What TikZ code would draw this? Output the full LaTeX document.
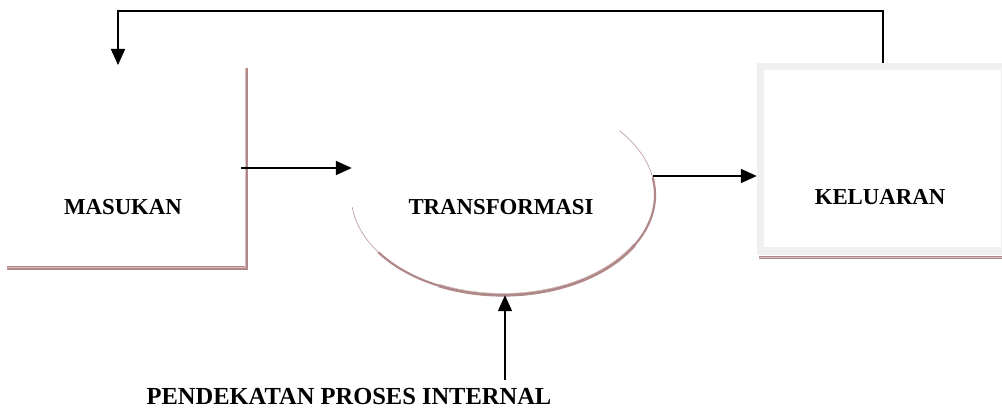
\documentclass[tikz,border=0pt]{standalone}
\usepackage{fontspec}
\setmainfont{Liberation Serif}
\usetikzlibrary{arrows.meta,shapes.geometric}
\definecolor{shadowrose}{RGB}{176,136,136}
\definecolor{shadowlite}{RGB}{214,190,190}
\definecolor{framegray}{RGB}{240,240,240}
\tikzset{
  lbl/.style={font=\fontsize{22.8}{26}\selectfont\bfseries, inner sep=0pt},
  arr/.style={line width=1.7pt, -{Triangle[length=16pt,width=14pt]}},
  rose/.style={line width=3.4pt, draw=shadowrose},
  roselite/.style={line width=1pt, draw=shadowlite},
}
\begin{document}
\begin{tikzpicture}[x=1pt,y=1pt]
\useasboundingbox (0,0) rectangle (1002,412);

% input box: only its right and bottom edges are drawn
\node[minimum width=239pt, minimum height=200pt, inner sep=0pt] (masukan) at (126.5,244) {};
\draw[rose] (masukan.north east) -- (masukan.south east) -- (masukan.south west);
\draw[roselite] ([xshift=-0.8pt]masukan.north east) -- ([xshift=-0.8pt,yshift=0.8pt]masukan.south east) -- ([yshift=0.8pt]masukan.south west);
\node[lbl] (masukanlbl) at (123,205) {MASUKAN};

% transformation process: ellipse with a shaded lower rim
\node[ellipse, minimum width=304pt, minimum height=200pt, inner sep=0pt] (trans) at (503,217) {};
\draw[line width=0.7pt, draw=shadowrose!80] (trans.center) ++(187:152pt and 100pt) arc[start angle=187, end angle=400, x radius=152pt, y radius=100pt];
\draw[line width=2.2pt, draw=shadowrose] (trans.center) ++(215:152pt and 100pt) arc[start angle=215, end angle=370, x radius=152pt, y radius=100pt];
\draw[line width=3.2pt, draw=shadowrose] (trans.center) ++(245:152pt and 100pt) arc[start angle=245, end angle=330, x radius=152pt, y radius=100pt];
\draw[line width=0.6pt, draw=shadowlite] (trans.center) ++(245:150.5pt and 98.5pt) arc[start angle=245, end angle=330, x radius=150.5pt, y radius=98.5pt];
\node[lbl] (translbl) at (501,205) {TRANSFORMASI};

% output box: light grey frame with a rose shadow underneath
\node[minimum width=245pt, minimum height=192pt, inner sep=0pt, fill=framegray] (kel) at (879.5,253) {};
\fill[white] (764,165) rectangle (1000.5,342);
\draw[line width=3pt, draw=shadowrose] (759,154.5) -- (1002,154.5);
\draw[line width=0.8pt, draw=shadowlite] (759,155) -- (1002,155);
\node[lbl] (kellbl) at (880,215) {KELUARAN};

% internal approach label and its arrow
\node[lbl, font=\fontsize{24.5}{28}\selectfont\bfseries] (pendekatan) at (349,15) {PENDEKATAN PROSES INTERNAL};
\coordinate (inbot) at (505,32);
\coordinate (fbtip) at (118,347);

% connectors
\draw[arr] ([xshift=-5pt]masukan.east) -- ([xshift=1pt]masukan.east -| trans.west);
\draw[arr] ([xshift=-2pt]trans.east |- 0,236) -- (kel.west |- 0,236);
\draw[arr] (inbot) -- (inbot |- trans.south);
\draw[arr] ([xshift=3.5pt]kel.north) |- (118,401) -- (fbtip);
\end{tikzpicture}
\end{document}
